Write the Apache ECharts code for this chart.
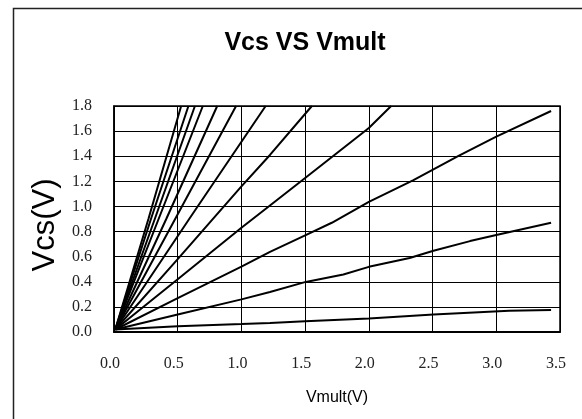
<!DOCTYPE html>
<html>
<head>
<meta charset="utf-8">
<script src="https://cdn.jsdelivr.net/npm/echarts@6/dist/echarts.min.js"></script>
<style>html,body{margin:0;padding:0;background:#fff}#c{width:582px;height:419px}</style>
</head>
<body>
<div id="c"></div>
<script>
const titleText = 'Vcs VS Vmult';
const xName = 'Vmult(V)';
const yName = 'Vcs(V)';
const xTicks = [0, 0.5, 1.0, 1.5, 2.0, 2.5, 3.0, 3.5];
const yTicks = [0, 0.2, 0.4, 0.6, 0.8, 1.0, 1.2, 1.4, 1.6, 1.8];

const curve1 = [[0.01,0.02],[0.27,0.9],[0.527,1.8]];
const curve2 = [[0.01,0.02],[0.29,0.9],[0.584,1.8]];
const curve3 = [[0.01,0.02],[0.32,0.9],[0.635,1.8]];
const curve4 = [[0.01,0.02],[0.35,0.9],[0.697,1.8]];
const curve5 = [[0.01,0.02],[0.41,0.9],[0.81,1.8]];
const curve6 = [[0.01,0.02],[0.48,0.9],[0.958,1.8]];
const curve7 = [[0.01,0.02],[0.59,0.9],[1.19,1.8]];
const curve8 = [[0.01,0.02],[0.5,0.58],[1.0,1.16],[1.224,1.41],[1.553,1.8]];
const curve9 = [[0.01,0.02],[0.5,0.42],[1.0,0.83],[1.224,1.008],[1.505,1.23],[2.0,1.625],[2.175,1.8]];
const curve10 = [[0.01,0.02],[0.5,0.27],[1.0,0.52],[1.224,0.638],[1.5,0.77],[1.709,0.87],[2.0,1.037],[2.35,1.21],[2.7,1.40],[3.0,1.556],[3.43,1.76]];
const curve11 = [[0.01,0.02],[0.5,0.14],[1.0,0.26],[1.224,0.319],[1.505,0.399],[1.8,0.458],[2.0,0.519],[2.32,0.59],[2.507,0.647],[2.794,0.724],[3.0,0.772],[3.43,0.87]];
const curve12 = [[0.01,0.02],[0.5,0.045],[1.0,0.063],[1.224,0.072],[1.5,0.085],[2.0,0.108],[2.507,0.14],[3.1,0.17],[3.43,0.175]];
const curves = [curve1,curve2,curve3,curve4,curve5,curve6,curve7,curve8,curve9,curve10,curve11,curve12];

const chart = echarts.init(document.getElementById('c'), null, {renderer:'canvas'});
const tickFont = {fontFamily:'Liberation Serif', fontSize:16, color:'#222'};
chart.setOption({
  animation:false,
  backgroundColor:'#fff',
  title:{text:titleText, left:300, top:26, textAlign:'center',
    textStyle:{fontFamily:'Liberation Sans', fontWeight:'bold', fontSize:25, color:'#000'}},
  graphic:[{type:'rect', left:11, top:6, shape:{x:0,y:0,width:620,height:480},
    style:{fill:null, stroke:'#222', lineWidth:1.5}, silent:true, z:-1}],
  grid:{left:114, right:22, top:106, bottom:87, show:true, borderColor:'#000', borderWidth:1.5},
  xAxis:{type:'value', min:xTicks[0], max:xTicks[xTicks.length-1], interval:0.5,
    name:xName, nameLocation:'middle', nameGap:58,
    nameTextStyle:{fontFamily:'Liberation Sans', fontSize:16, color:'#000'},
    axisLine:{show:true, lineStyle:{color:'#000', width:2}},
    axisTick:{show:false},
    splitLine:{show:true, lineStyle:{color:'#000', width:1}},
    axisLabel:Object.assign({margin:24, padding:[0,8,0,0], formatter:v=>v.toFixed(1)}, tickFont)},
  yAxis:{type:'value', min:yTicks[0], max:yTicks[yTicks.length-1], interval:0.2,
    name:yName, nameLocation:'middle', nameGap:50, nameRotate:90,
    nameTextStyle:{fontFamily:'Liberation Sans', fontSize:31, color:'#000', padding:[0,12,0,0]},
    axisLine:{show:true, lineStyle:{color:'#000', width:1.5}},
    axisTick:{show:false},
    splitLine:{show:true, lineStyle:{color:'#000', width:1}},
    axisLabel:Object.assign({margin:22, padding:[6,0,0,0], formatter:v=>v.toFixed(1)}, tickFont)},
  series:curves.map((c,i)=>({type:'line', name:'curve'+(i+1), data:c, showSymbol:false, symbol:'none',
    lineStyle:{color:'#000', width:2}, clip:true}))
});
</script>
</body>
</html>
